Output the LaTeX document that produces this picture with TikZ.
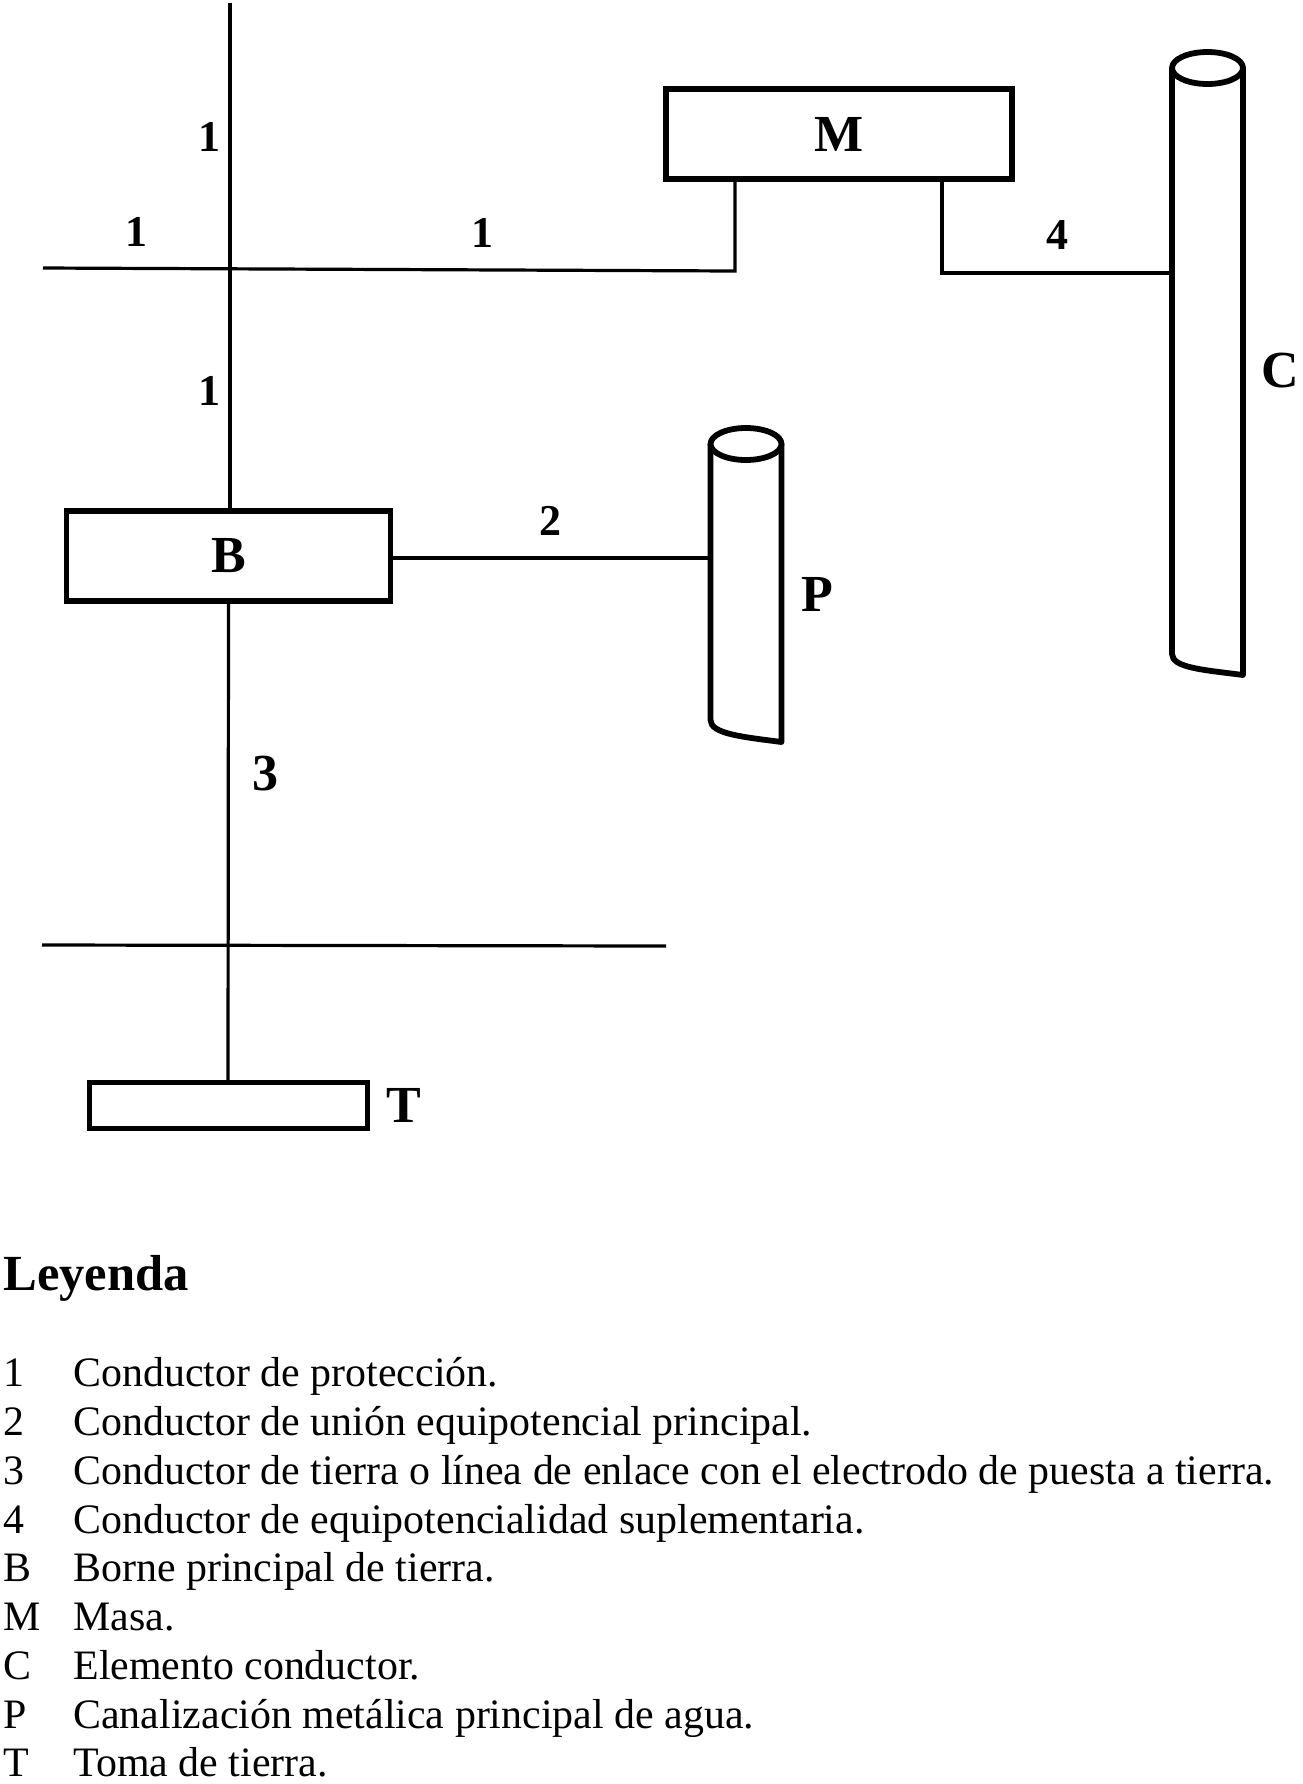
\documentclass[tikz,border=0pt]{standalone}
\usepackage{fontspec}
\setmainfont{Liberation Serif}
\usetikzlibrary{positioning}

\begin{document}
\begin{tikzpicture}[
  x=0.5pt, y=-0.5pt,
  box/.style={draw, line width=2.9pt, outer sep=0pt, inner sep=0pt},
  thinbox/.style={box, line width=2.5pt},
  body/.style={outer sep=0pt, inner sep=0pt, minimum width=35.5pt},
  wire/.style={line width=1.6pt},
  pipe/.style={line width=2.9pt, line join=round},
  tag/.style={font=\fontsize{22}{24}\bfseries\selectfont},
  letter/.style={font=\fontsize{26}{29}\bfseries\selectfont},
  legend/.style={anchor=base west, inner sep=0pt, font=\fontsize{20.95}{24}\selectfont}
]
\useasboundingbox (0,0) rectangle (1302,1784);

\node[box, minimum width=173pt, minimum height=45pt, letter] (M) at (839,134) {M};
\node[box, minimum width=162pt, minimum height=45pt, letter] (B) at (228.5,556) {B};
\node[thinbox, minimum width=139pt, minimum height=23pt] (T) at (228,1105) {};

% pipes
\node[body, minimum height=303.5pt] (pipeC) at (1207.5,371.5) {};
\node[body, minimum height=149pt] (pipeP) at (746,593) {};
\draw[pipe] (pipeC.north west) -- ([yshift=10.5pt]pipeC.south west)
  .. controls +(0,14) and +(-38,-5) .. (pipeC.south east) -- (pipeC.north east);
\draw[pipe] (pipeP.north west) -- ([yshift=11pt]pipeP.south west)
  .. controls +(0,14) and +(-38,-5) .. (pipeP.south east) -- (pipeP.north east);
\draw[pipe, fill=white] (pipeC.north) ellipse [x radius=35.5, y radius=16];
\draw[pipe, fill=white] (pipeP.north) ellipse [x radius=35.5, y radius=16];

% conductors
\coordinate (top) at (230,3);
\coordinate (westend) at (43,268);
\coordinate (massA) at (735,271);
\coordinate (massB) at (942,273);
\coordinate (earthL) at (42,945);
\coordinate (earthR) at (666,946);

\draw[wire] (top) -- (top |- B.north);
\draw[wire] (westend) -- (massA) -- (massA |- M.south);
\draw[wire] (massB |- M.south) -- (massB) -- (massB -| pipeC.west);
\draw[wire] ([yshift=-1pt]B.east) -- ([yshift=-1pt]B.east -| pipeP.west);
\draw[wire] (B.south) -- (T.north);
\draw[wire] (earthL) -- (earthR);

% labels
\node[tag] (one1) at (209,137) {1};
\node[tag] (one2) at (136,232) {1};
\node[tag] (one3) at (482,233) {1};
\node[tag] (one4) at (209,391) {1};
\node[tag] (two) at (550,521) {2};
\node[letter] (three) at (265,774) {3};
\node[tag] (four) at (1057,235) {4};
\node[letter] (labC) at (1280,371) {C};
\node[letter] (labP) at (817,594) {P};
\node[letter] (labT) at (404,1105) {T};

% legend
\node[legend, font=\fontsize{25.3}{28}\bfseries\selectfont] (title) at (3,1290) {Leyenda};
\node[legend] (k1) at (3,1386) {1};
\node[legend] (t1) at (73,1386) {Conductor de protección.};
\node[legend] (k2) at (3,1435) {2};
\node[legend] (t2) at (73,1435) {Conductor de unión equipotencial principal.};
\node[legend] (k3) at (3,1484) {3};
\node[legend] (t3) at (73,1484) {Conductor de tierra o línea de enlace con el electrodo de puesta a tierra.};
\node[legend] (k4) at (3,1533) {4};
\node[legend] (t4) at (73,1533) {Conductor de equipotencialidad suplementaria.};
\node[legend] (k5) at (3,1581) {B};
\node[legend] (t5) at (73,1581) {Borne principal de tierra.};
\node[legend] (k6) at (3,1630) {M};
\node[legend] (t6) at (73,1630) {Masa.};
\node[legend] (k7) at (3,1679) {C};
\node[legend] (t7) at (73,1679) {Elemento conductor.};
\node[legend] (k8) at (3,1728) {P};
\node[legend] (t8) at (73,1728) {Canalización metálica principal de agua.};
\node[legend] (k9) at (3,1776) {T};
\node[legend] (t9) at (73,1776) {Toma de tierra.};
\end{tikzpicture}
\end{document}
